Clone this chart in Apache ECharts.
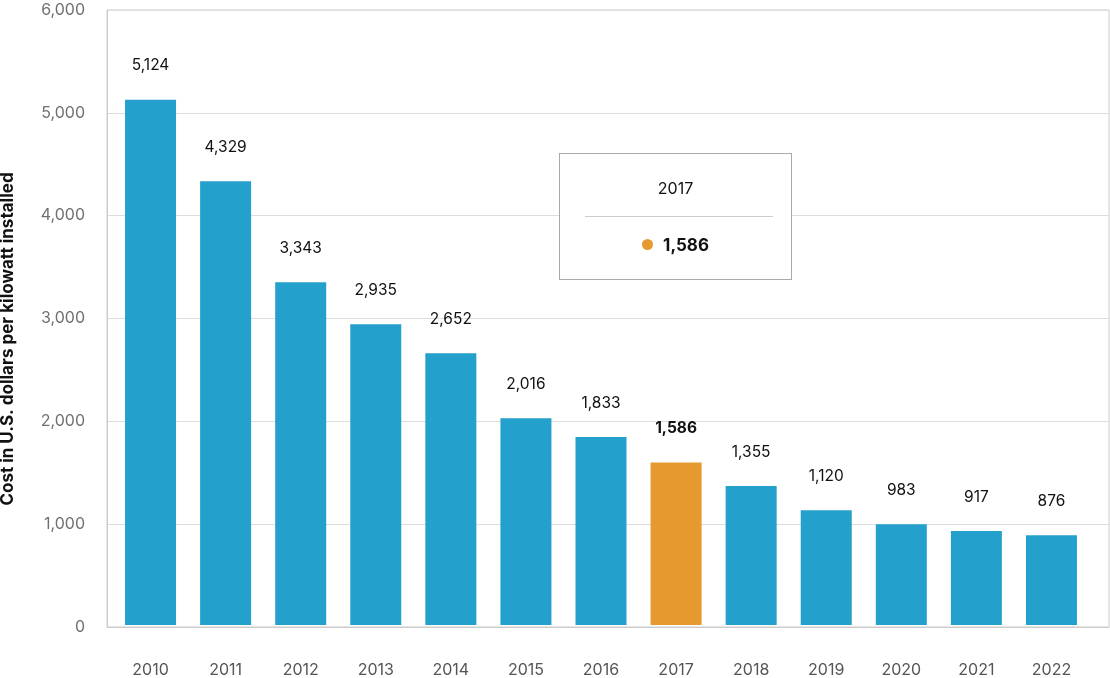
<!DOCTYPE html>
<html>
<head>
<meta charset="utf-8">
<script src="https://cdn.jsdelivr.net/npm/echarts@6/dist/echarts.min.js"></script>
<style>
  html, body { margin: 0; padding: 0; background: #fff; }
  #chart { width: 1110px; height: 678px; }
</style>
</head>
<body>
<div id="chart"></div>
<script>
var years = ["2010", "2011", "2012", "2013", "2014", "2015", "2016", "2017", "2018", "2019", "2020", "2021", "2022"];
var costs = [5124, 4329, 3343, 2935, 2652, 2016, 1833, 1586, 1355, 1120, 983, 917, 876];
var highlightYear = "2017";
var yTicks = { min: 0, max: 6000, interval: 1000 };
var yName = "Cost in U.S. dollars per kilowatt installed";

var FONT = "Inter, 'Noto Sans', sans-serif";
var BLUE = "#24a0cc";
var ORANGE = "#e5992f";

var chart = echarts.init(document.getElementById("chart"));
var hiIndex = years.indexOf(highlightYear);

var fmt = function (v) { return v.toLocaleString("en-US"); };

var barData = costs.map(function (v, i) {
    var item = { value: v, itemStyle: { color: i === hiIndex ? ORANGE : BLUE } };
    if (i === hiIndex) item.label = { fontWeight: "bold" };
    return item;
});

var option = {
    animation: false,
    textStyle: { fontFamily: FONT },
    grid: [
        { left: 107, right: 1, top: 10, bottom: 51, show: true, borderColor: "#ccc", borderWidth: 1 },
        { left: 113, right: 21, top: 10, bottom: 51 }
    ],
    xAxis: [
        {
            gridIndex: 0, type: "value", min: 0, max: 1,
            axisLine: { show: true, onZero: false, lineStyle: { color: "#ccc" } },
            axisTick: { show: false }, axisLabel: { show: false }, splitLine: { show: false }
        },
        {
            gridIndex: 1, type: "category", data: years,
            axisLine: { show: false }, axisTick: { show: false },
            axisLabel: { color: "#555", fontSize: 16, margin: 37, fontFamily: FONT }
        }
    ],
    yAxis: [
        {
            gridIndex: 0, type: "value", min: yTicks.min, max: yTicks.max, interval: yTicks.interval,
            axisLine: { show: true, lineStyle: { color: "#ccc" } },
            axisTick: { show: false },
            axisLabel: { color: "#707070", fontSize: 16, margin: 22, fontFamily: FONT, formatter: fmt },
            splitLine: { lineStyle: { color: "#ddd" } }
        },
        {
            gridIndex: 1, type: "value", min: yTicks.min, max: yTicks.max, interval: yTicks.interval,
            show: false
        }
    ],
    tooltip: {
        trigger: "item",
        triggerOn: "none",
        alwaysShowContent: true,
        transitionDuration: 0,
        padding: 0,
        backgroundColor: "#fff",
        borderColor: "#aaa",
        borderWidth: 1,
        extraCssText: "box-shadow:none;border-radius:0;width:231px;height:125px;",
        position: function () { return [559, 153]; },
        formatter: function (p) {
            return '<div style="font-family:' + FONT.replace(/'/g, "") + ';text-align:center;color:#111;">' +
                '<div style="font-size:16px;padding-top:24px;height:24px;">' + p.name + '</div>' +
                '<div style="margin:14px 18px 0 25px;border-top:1px solid #ccc;"></div>' +
                '<div style="padding-top:18px;font-size:17px;font-weight:bold;">' +
                '<span style="display:inline-block;width:11px;height:11px;border-radius:50%;background:' + ORANGE + ';margin-right:10px;vertical-align:1px;"></span>' +
                fmt(p.value) + '</div></div>';
        }
    },
    graphic: [
        {
            type: "text", x: 8, y: 339, rotation: Math.PI / 2,
            style: {
                text: yName, fill: "#111", font: "bold 17px " + FONT,
                align: "center", verticalAlign: "middle"
            }
        }
    ],
    series: [
        {
            type: "bar",
            xAxisIndex: 1, yAxisIndex: 1,
            barWidth: 51,
            data: barData,
            label: {
                show: true, position: "top", distance: 26,
                color: "#111", fontSize: 15.5, fontFamily: FONT,
                formatter: function (p) { return fmt(p.value); }
            },
            emphasis: { disabled: true }
        }
    ]
};

chart.setOption(option);
chart.dispatchAction({ type: "showTip", seriesIndex: 0, dataIndex: hiIndex });

window.addEventListener("resize", function () { chart.resize(); });
</script>
</body>
</html>
